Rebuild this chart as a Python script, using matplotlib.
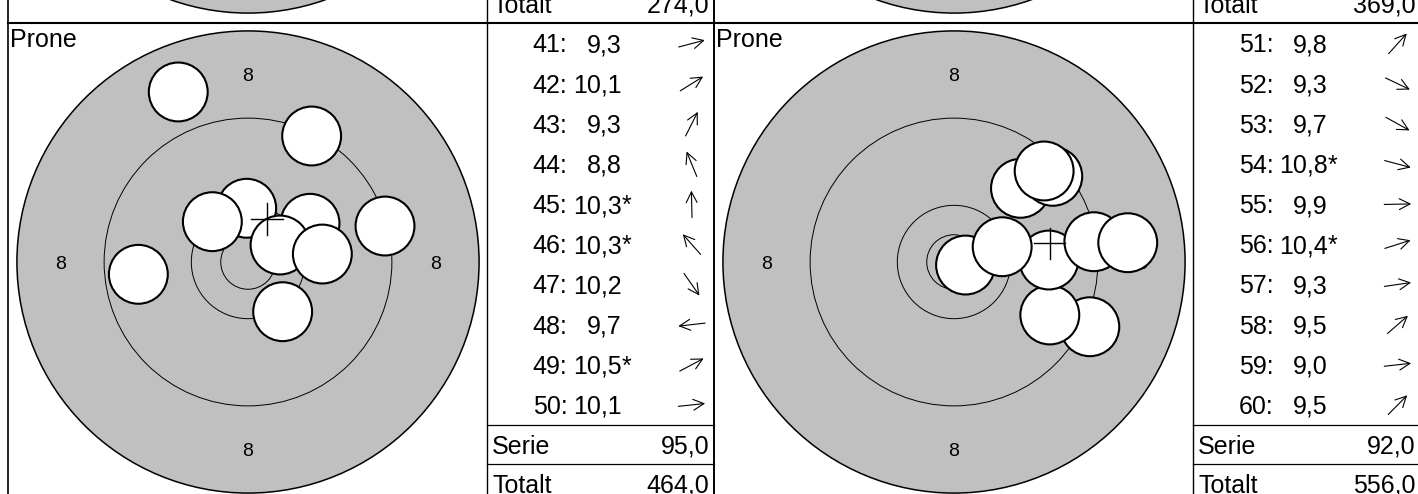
import matplotlib.pyplot as plt
from matplotlib.patches import Circle
import numpy as np

plt.rcParams['font.family'] = ['Liberation Sans', 'DejaVu Sans']

# ---- data (shot positions in mm from target centre, x right / y up) ----
left_ids = [41, 42, 43, 44, 45, 46, 47, 48, 49, 50]
left_scores = [9.3, 10.1, 9.3, 8.8, 10.3, 10.3, 10.2, 9.7, 10.5, 10.1]
left_stars = [False, False, False, False, True, True, False, False, True, False]
left_x = [12.57, 5.69, 5.84, -6.40, -0.12, -3.27, 3.18, -10.06, 2.94, 6.82]
left_y = [3.30, 3.55, 11.56, 15.60, 4.93, 3.70, -4.56, -1.13, 1.56, 0.73]
left_serie = 95.0
left_total = 464.0
left_prev_total = 274.0

right_ids = [51, 52, 53, 54, 55, 56, 57, 58, 59, 60]
right_scores = [9.8, 9.3, 9.7, 10.8, 9.9, 10.4, 9.3, 9.5, 9.0, 9.5]
right_stars = [False, False, False, True, False, True, False, False, False, False]
right_x = [6.10, 12.46, 8.79, 1.06, 8.70, 4.42, 12.83, 9.06, 15.94, 8.27]
right_y = [6.76, -5.94, -4.86, -0.28, 0.18, 1.40, 1.86, 7.86, 1.77, 8.35]
right_serie = 92.0
right_total = 556.0
right_prev_total = 369.0

ring_radii = [21.2, 13.2, 5.2, 2.5]   # 8-ring outer edge down to inner ten
ring_label = "8"
label_radius = 17.2
hole_radius = 2.7
position_name = "Prone"

# ---- layout (pixels) ----
W, H = 1418, 494
SCALE = 10.9            # px per mm
PANEL_W, PANEL_H = 706, 480
TARGET_W = 479
TABLE_W = PANEL_W - TARGET_W
CX, CY = 239.7, 238.5   # target centre inside panel
SHOT_ROW = 40.15
SUM_ROW = 39.3
FS = 18
GREY = '#c0c0c0'


def fmt(v):
    return f"{v:.1f}".replace('.', ',')


fig = plt.figure(figsize=(W / 100, H / 100), dpi=100)
bg = fig.add_axes([0, 0, 1, 1])
bg.set_xlim(0, W)
bg.set_ylim(H, 0)
bg.axis('off')


def draw_target(left, top, xs, ys):
    ax = fig.add_axes([left / W, 1 - (top + PANEL_H) / H, TARGET_W / W, PANEL_H / H])
    ax.set_xlim(-CX / SCALE, (TARGET_W - CX) / SCALE)
    ax.set_ylim(-(PANEL_H - CY) / SCALE, CY / SCALE)
    ax.axis('off')
    ax.add_patch(Circle((0, 0), ring_radii[0], facecolor=GREY, edgecolor='black', lw=1.1, zorder=1))
    for r in ring_radii[1:]:
        ax.add_patch(Circle((0, 0), r, facecolor='none', edgecolor='black', lw=0.7, zorder=2))
    for dx, dy in [(0, 1), (0, -1), (-1, 0), (1, 0)]:
        ax.text(dx * label_radius, dy * label_radius - 0.64, ring_label, fontsize=14,
                ha='center', va='baseline', zorder=3)
    for i, (x, y) in enumerate(zip(xs, ys)):
        ax.add_patch(Circle((x, y), hole_radius, facecolor='white', edgecolor='black',
                            lw=1.5, zorder=10 + i))
    if xs:
        mx, my = np.mean(xs), np.mean(ys)
        ax.plot([mx - 1.45, mx + 1.45], [my, my], color='black', lw=1.0, zorder=50)
        ax.plot([mx, mx], [my - 1.45, my + 1.45], color='black', lw=1.0, zorder=50)
    return ax


def draw_table(left, top, ids, scores, stars, xs, ys, serie, total):
    tl = left + TARGET_W
    # vertical lines
    bg.plot([left, left], [top, top + PANEL_H], color='black', lw=1.2)
    bg.plot([tl, tl], [top, top + PANEL_H], color='black', lw=1.0)
    bg.plot([left + PANEL_W, left + PANEL_W], [top, top + PANEL_H], color='black', lw=1.2)
    bg.plot([left, left + PANEL_W], [top, top], color='black', lw=1.5)
    y_serie = top + 10 * SHOT_ROW
    y_total = y_serie + SUM_ROW
    bg.plot([tl, tl + TABLE_W], [y_serie, y_serie], color='black', lw=0.9)
    bg.plot([tl, tl + TABLE_W], [y_total, y_total], color='black', lw=0.9)
    for i, (n, s, st, x, y) in enumerate(zip(ids, scores, stars, xs, ys)):
        yc = top + (i + 0.5) * SHOT_ROW
        yb = yc + 8.9
        bg.text(tl + 80, yb, f"{n}:", fontsize=FS, ha='right', va='baseline')
        bg.text(tl + 134.3, yb, fmt(s), fontsize=FS, ha='right', va='baseline')
        if st:
            bg.text(tl + 134.5, yb, "*", fontsize=FS, ha='left', va='baseline')
        ang = np.arctan2(y, x)
        ax_c = tl + 204.4
        half = 13.5
        bg.annotate('', xy=(ax_c + half * np.cos(ang), yc - half * np.sin(ang)),
                    xytext=(ax_c - half * np.cos(ang), yc + half * np.sin(ang)),
                    arrowprops=dict(arrowstyle='->,head_length=0.55,head_width=0.28',
                                    lw=0.8, color='black', shrinkA=0, shrinkB=0,
                                    mutation_scale=14))
    if serie is not None:
        yb = y_serie + SUM_ROW / 2 + 8.9
        bg.text(tl + 5, yb, "Serie", fontsize=FS, ha='left', va='baseline')
        bg.text(tl + TABLE_W - 5, yb, fmt(serie), fontsize=FS, ha='right', va='baseline')
    yb = y_total + SUM_ROW / 2 + 8.9
    bg.text(tl + 5, yb, "Totalt", fontsize=FS, ha='left', va='baseline')
    bg.text(tl + TABLE_W - 5, yb, fmt(total), fontsize=FS, ha='right', va='baseline')


row_top = 23.5
prev_top = row_top - PANEL_H
panel_lefts = [8.3, 8.3 + PANEL_W]

# previous row (only its bottom edge is visible)
for pl, pt in zip(panel_lefts, [left_prev_total, right_prev_total]):
    draw_target(pl, prev_top, [], [])
    draw_table(pl, prev_top, [], [], [], [], [], None, pt)

# current row
panels = [
    (left_ids, left_scores, left_stars, left_x, left_y, left_serie, left_total),
    (right_ids, right_scores, right_stars, right_x, right_y, right_serie, right_total),
]
for pl, (ids, sc, st, xs, ys, se, to) in zip(panel_lefts, panels):
    draw_target(pl, row_top, xs, ys)
    draw_table(pl, row_top, ids, sc, st, xs, ys, se, to)
    bg.text(pl + 2, row_top + 23.2, position_name, fontsize=FS, ha='left', va='baseline')

fig.savefig('out.png', dpi=100)
